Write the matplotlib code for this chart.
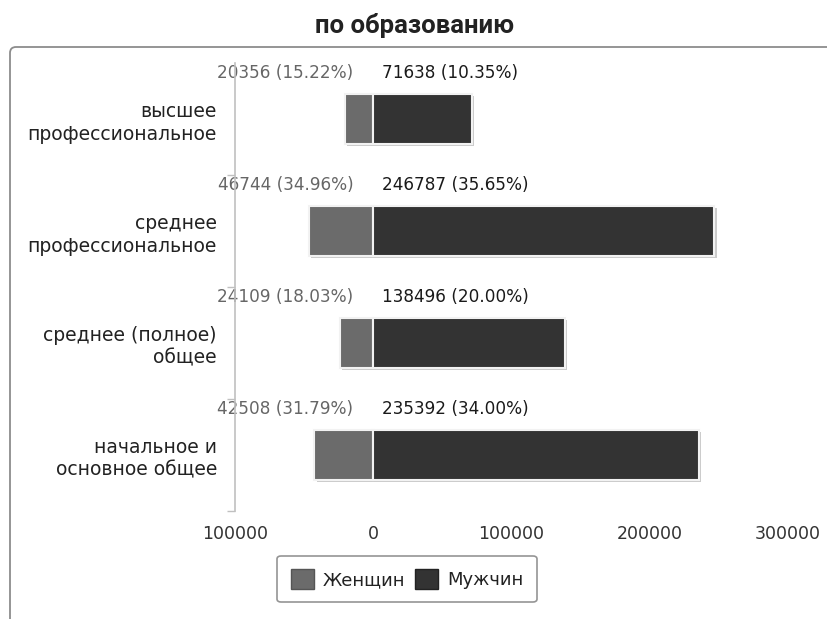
import matplotlib
matplotlib.use('Agg')
import matplotlib.pyplot as plt
import matplotlib.patheffects as pe
from matplotlib.patches import FancyBboxPatch, Patch
from matplotlib.ticker import FuncFormatter, FixedLocator
import numpy as np

# данные по уровню образования
categories = ['высшее\nпрофессиональное', 'среднее\nпрофессиональное',
              'среднее (полное)\nобщее', 'начальное и\nосновное общее']
women = [20356, 46744, 24109, 42508]
women_pct = [15.22, 34.96, 18.03, 31.79]
men = [71638, 246787, 138496, 235392]
men_pct = [10.35, 35.65, 20.00, 34.00]
x_ticks = [-100000, 0, 100000, 200000, 300000]

W, H = 828, 619
fig = plt.figure(figsize=(W / 100, H / 100), dpi=100)

# фоновый слой в пикселях: рамка графика
bg = fig.add_axes([0, 0, 1, 1], zorder=0)
bg.set_xlim(0, W)
bg.set_ylim(H, 0)
bg.axis('off')
bg.add_patch(FancyBboxPatch((10, 47), 900, 700, boxstyle='round,pad=0,rounding_size=6',
                            fc='white', ec='#8c8c8c', lw=1.3))

fig.text(415 / W, 1 - 25 / H, 'по образованию', ha='center', va='center',
         fontsize=18.5, fontweight='bold', family='Roboto', color='#222222')

ax = fig.add_axes([235 / W, 1 - 511 / H, 553 / W, 448 / H], zorder=1)
ax.patch.set_alpha(0)
y = np.arange(len(categories))
shadow = [pe.SimplePatchShadow(offset=(1.5, -1.5), shadow_rgbFace='#999999', alpha=0.5), pe.Normal()]
bw = ax.barh(y, [-v for v in women], height=0.45, color='#6b6b6b', edgecolor='#f2f2f2',
             linewidth=1.5, label='Женщин')
bm = ax.barh(y, men, height=0.45, color='#333333', edgecolor='#f2f2f2',
             linewidth=1.5, label='Мужчин')
for b in list(bw) + list(bm):
    b.set_path_effects(shadow)

for i in range(len(categories)):
    ax.text(-14500, y[i] - 0.41, f'{women[i]} ({women_pct[i]:.2f}%)', ha='right', va='center',
            fontsize=12.2, color='#666666', zorder=0)
    ax.text(6500, y[i] - 0.41, f'{men[i]} ({men_pct[i]:.2f}%)', ha='left', va='center',
            fontsize=12.2, color='#1a1a1a')

ax.set_xlim(-100000, 300000)
ax.set_ylim(len(categories) - 0.5, -0.5)
ax.set_xticks(x_ticks)
ax.xaxis.set_major_formatter(FuncFormatter(lambda v, p: f'{abs(int(v))}'))
ax.tick_params(axis='x', length=0, pad=10, labelsize=12.5, labelcolor='#333333')

ax.set_yticks(y)
ax.set_yticklabels(categories, fontsize=13.5, color='#222222', ha='right', linespacing=1.25)
ax.tick_params(axis='y', which='major', length=0, pad=13)
ax.yaxis.set_minor_locator(FixedLocator(np.arange(0.5, len(categories), 1.0)))
ax.tick_params(axis='y', which='minor', length=6, color='#c0c0c0', width=1)

for s in ['top', 'right', 'bottom']:
    ax.spines[s].set_visible(False)
ax.spines['left'].set_color('#c0c0c0')
ax.spines['left'].set_linewidth(1.2)

leg = ax.legend(handles=[Patch(fc='#6b6b6b', ec='#555555'), Patch(fc='#333333', ec='#222222')],
                labels=['Женщин', 'Мужчин'], loc='center', bbox_to_anchor=(407 / W, 1 - 579 / H),
                bbox_transform=fig.transFigure, ncol=2, fontsize=13, frameon=True, fancybox=True,
                edgecolor='#7a7a7a', handlelength=1.3, handleheight=1.3, handletextpad=0.5,
                columnspacing=0.5, borderpad=0.75)
leg.get_frame().set_linewidth(1.2)
for t in leg.get_texts():
    t.set_color('#222222')

fig.savefig('out.png', dpi=100)
